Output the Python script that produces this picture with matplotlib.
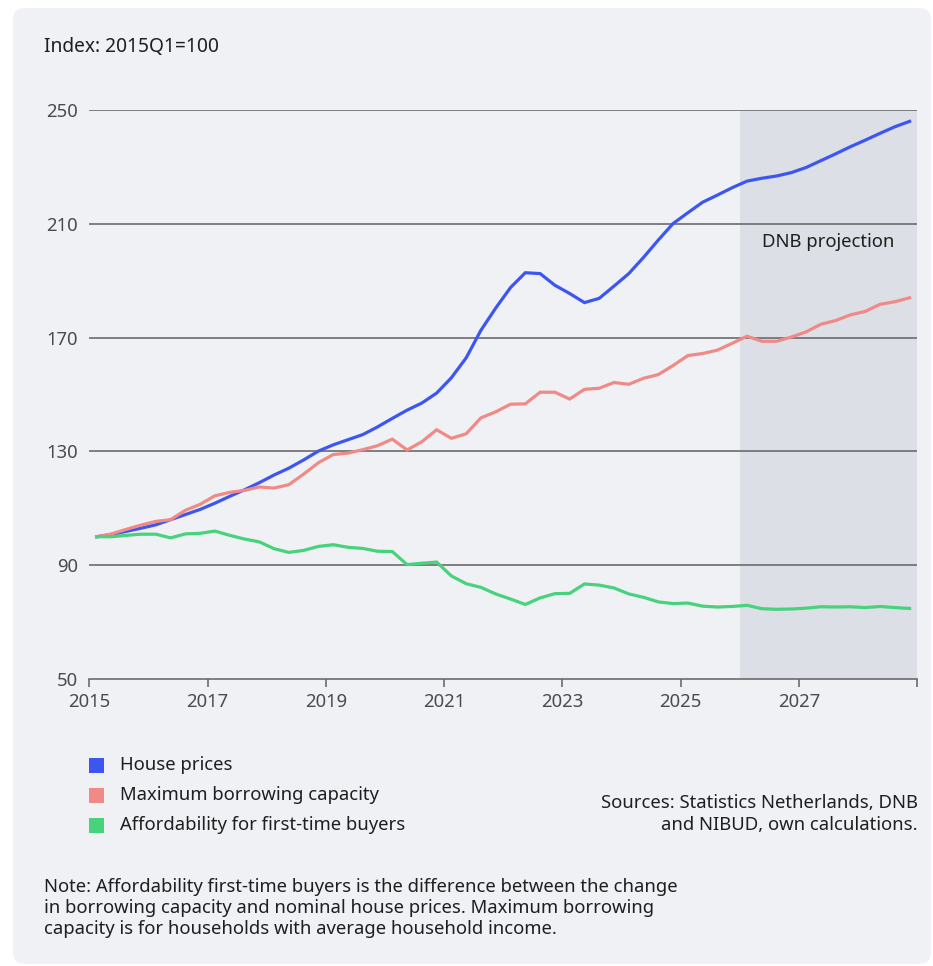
import numpy as np
import pandas as pd
import matplotlib
matplotlib.use("Agg")
import matplotlib.pyplot as plt
from matplotlib.patches import FancyBboxPatch, Rectangle

plt.rcParams['font.family'] = ['Noto Sans', 'DejaVu Sans']

# quarterly index, 2015Q1 = 100
quarters = pd.period_range('2015Q1', '2028Q4', freq='Q')

house_prices = [
    100.0, 100.8, 101.9, 103.0, 104.2, 106.0, 107.8, 109.6,
    111.8, 114.2, 116.5, 119.0, 121.7, 124.1, 127.0, 130.1,
    132.3, 134.1, 135.9, 138.6, 141.6, 144.5, 147.0, 150.5,
    155.9, 162.9, 172.6, 180.4, 187.6, 192.8, 192.5, 188.4,
    185.5, 182.3, 183.8, 188.1, 192.5, 198.2, 204.3, 210.1,
    213.9, 217.6, 220.1, 222.7, 225.0, 226.0, 226.8, 228.0,
    229.8, 232.2, 234.6, 237.1, 239.4, 241.8, 244.1, 246.0,
]
borrowing_capacity = [
    100.0, 101.0, 102.6, 104.1, 105.4, 106.0, 109.3, 111.4,
    114.4, 115.6, 116.3, 117.5, 117.1, 118.3, 122.0, 126.0,
    128.9, 129.4, 130.6, 132.0, 134.3, 130.5, 133.4, 137.6,
    134.6, 136.2, 141.8, 143.9, 146.6, 146.7, 150.8, 150.8,
    148.4, 151.8, 152.2, 154.2, 153.6, 155.7, 157.0, 160.2,
    163.7, 164.4, 165.6, 168.0, 170.5, 168.7, 168.7, 170.2,
    172.0, 174.7, 176.0, 178.0, 179.2, 181.7, 182.6, 184.0,
]
affordability = [
    100.0, 100.0, 100.5, 100.9, 100.9, 99.6, 101.0, 101.2,
    102.0, 100.5, 99.2, 98.2, 95.8, 94.5, 95.2, 96.6,
    97.2, 96.3, 95.9, 94.9, 94.8, 90.2, 90.7, 91.1,
    86.2, 83.5, 82.2, 79.9, 78.1, 76.2, 78.5, 80.0,
    80.1, 83.4, 83.0, 82.0, 79.9, 78.7, 77.1, 76.5,
    76.7, 75.6, 75.3, 75.5, 75.9, 74.7, 74.5, 74.6,
    74.9, 75.4, 75.3, 75.4, 75.1, 75.5, 75.1, 74.8,
]

series_names = ['House prices', 'Maximum borrowing capacity',
                'Affordability for first-time buyers']
series_colors = ['#3d56f2', '#f08a86', '#47d27c']

y_ticks = [50, 90, 130, 170, 210, 250]
x_ticks = [2015, 2017, 2019, 2021, 2023, 2025, 2027, 2029]
x_ticklabels = ['2015', '2017', '2019', '2021', '2023', '2025', '2027', '']
projection_start = 2026

PANEL = '#eff1f5'
SHADE = '#dcdfe6'
GRID = '#6b6b6b'
TEXT = '#1f1f1f'
FS = 13.3

W, H = 933, 966
fig = plt.figure(figsize=(W / 100, H / 100), dpi=100)
fig.patch.set_facecolor('white')

# rounded background panel, in pixel coordinates
panel = FancyBboxPatch((13, 2), 918, 956, boxstyle="round,pad=0,rounding_size=12",
                       transform=None, facecolor=PANEL, edgecolor='none', zorder=0)
fig.add_artist(panel)


def px(x, y):
    return x / W, 1 - y / H


ax = fig.add_axes([89.3 / W, 1 - 679 / H, (917 - 89.3) / W, (679 - 110) / H])
ax.patch.set_alpha(0)

# points sit in the middle of each quarter
x = quarters.year + (quarters.quarter - 1) / 4 + 0.125

ax.axvspan(projection_start, 2029, color=SHADE, lw=0, zorder=0)
for yt in y_ticks[1:]:
    ax.axhline(yt, color=GRID, lw=1.2, zorder=1)

for values, color in zip([house_prices, borrowing_capacity, affordability], series_colors):
    ax.plot(x, values, color=color, lw=2.3, solid_joinstyle='miter', zorder=3)

ax.text(2027.5, 203.6, 'DNB projection', ha='center', va='center',
        fontsize=FS, color=TEXT)

ax.set_xlim(2015, 2029)
ax.set_ylim(50, 250)
ax.set_yticks(y_ticks)
ax.set_xticks(x_ticks)
ax.set_xticklabels(x_ticklabels)
for side in ['top', 'right', 'left']:
    ax.spines[side].set_visible(False)
ax.spines['bottom'].set_color(GRID)
ax.spines['bottom'].set_linewidth(1.2)
ax.tick_params(axis='y', length=0, pad=8, labelsize=FS, labelcolor='#4a4a4a')
ax.tick_params(axis='x', length=6, width=1.2, color=GRID, pad=4,
               labelsize=FS, labelcolor='#4a4a4a')

fig.text(*px(44, 47), 'Index: 2015Q1=100', ha='left', va='center',
         fontsize=13.8, color=TEXT)

# legend: square swatch plus label per series
for i, (name, color) in enumerate(zip(series_names, series_colors)):
    yc = 765 + 30 * i
    fig.add_artist(Rectangle((89, H - yc - 7.5), 15, 15, transform=None,
                             facecolor=color, edgecolor='none'))
    fig.text(*px(120, yc), name, ha='left', va='center', fontsize=FS, color=TEXT)

fig.text(*px(918, 814), 'Sources: Statistics Netherlands, DNB\nand NIBUD, own calculations.',
         ha='right', va='center', fontsize=FS, color=TEXT, linespacing=1.3,
         multialignment='right')

fig.text(*px(44, 908),
         'Note: Affordability first-time buyers is the difference between the change\n'
         'in borrowing capacity and nominal house prices. Maximum borrowing\n'
         'capacity is for households with average household income.',
         ha='left', va='center', fontsize=FS, color=TEXT, linespacing=1.25)

fig.savefig('out.png', dpi=100, facecolor=fig.get_facecolor())
